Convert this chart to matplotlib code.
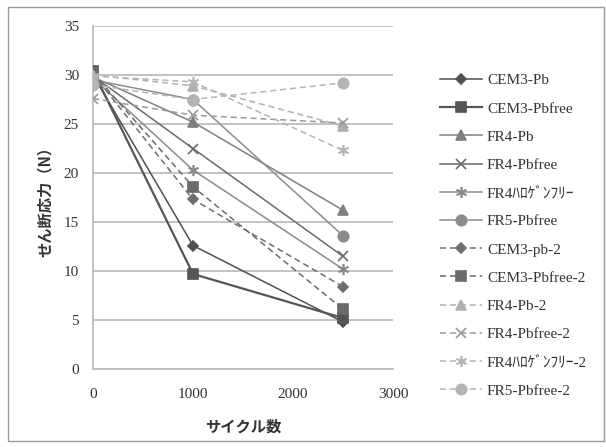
import matplotlib.pyplot as plt
from matplotlib.patches import Rectangle

# cycles
cycles = [0, 1000, 2500]

labels = ['CEM3-Pb', 'CEM3-Pbfree', 'FR4-Pb', 'FR4-Pbfree', 'FR4ﾊﾛｹﾞﾝﾌﾘｰ', 'FR5-Pbfree',
          'CEM3-pb-2', 'CEM3-Pbfree-2', 'FR4-Pb-2', 'FR4-Pbfree-2', 'FR4ﾊﾛｹﾞﾝﾌﾘｰ-2', 'FR5-Pbfree-2']

cem3_pb = [30.0, 12.6, 4.8]
cem3_pbfree = [30.4, 9.7, 5.2]
fr4_pb = [29.8, 25.2, 16.2]
fr4_pbfree = [29.9, 22.5, 11.5]
fr4_halogen = [29.7, 20.3, 10.2]
fr5_pbfree = [29.5, 27.5, 13.6]
cem3_pb_2 = [30.1, 17.3, 8.4]
cem3_pbfree_2 = [30.2, 18.6, 6.1]
fr4_pb_2 = [30.0, 28.9, 24.8]
fr4_pbfree_2 = [27.6, 25.9, 25.1]
fr4_halogen_2 = [29.9, 29.3, 22.3]
fr5_pbfree_2 = [29.0, 27.5, 29.2]

series = [cem3_pb, cem3_pbfree, fr4_pb, fr4_pbfree, fr4_halogen, fr5_pbfree,
          cem3_pb_2, cem3_pbfree_2, fr4_pb_2, fr4_pbfree_2, fr4_halogen_2, fr5_pbfree_2]

asterisk = (6, 2, 0)
markers = ['D', 's', '^', 'x', asterisk, 'o', 'D', 's', '^', 'x', asterisk, 'o']
msizes = [5, 7, 7, 7, 8, 7.5, 5, 7, 7, 7, 8, 7.5]
colors = ['#505050', '#555555', '#7f7f7f', '#6a6a6a', '#8a8a8a', '#8c8c8c',
          '#6e6e6e', '#6a6a6a', '#b0b0b0', '#9a9a9a', '#b4b4b4', '#b4b4b4']
widths = [1.1, 1.6, 1.1, 1.1, 1.1, 1.1, 1.1, 1.1, 1.1, 1.1, 1.1, 1.1]

serif = ['Liberation Serif', 'Noto Sans CJK JP']
jp = ['Noto Sans CJK JP', 'DejaVu Sans']

fig = plt.figure(figsize=(6.06, 4.47), dpi=100)
ax = fig.add_axes([93 / 606, 1 - 369 / 447, 300 / 606, 343 / 447])

for i in range(len(series)):
    ls = '-' if i < 6 else (0, (4, 2.5))
    ax.plot(cycles, series[i], label=labels[i], color=colors[i], linestyle=ls,
            linewidth=widths[i], marker=markers[i], markersize=msizes[i],
            markeredgewidth=1.2, zorder=3)

ax.set_xlim(0, 3000)
ax.set_ylim(0, 35)
ax.set_xticks([0, 1000, 2000, 3000])
ax.set_yticks(range(0, 36, 5))
ax.yaxis.grid(True, color='#bdbdbd', linewidth=1.3)
ax.set_axisbelow(True)
for s in ['top', 'right']:
    ax.spines[s].set_visible(False)
ax.spines['left'].set_color('#bdbdbd')
ax.spines['bottom'].set_color('#bdbdbd')
ax.spines['left'].set_linewidth(1.3)
ax.spines['bottom'].set_linewidth(1.3)
ax.tick_params(length=0)
ax.tick_params(axis='y', pad=10)
ax.tick_params(axis='x', pad=14)
for t in ax.get_xticklabels() + ax.get_yticklabels():
    t.set_fontfamily(serif)
    t.set_fontsize(11)
    t.set_color('#333333')

ax.set_xlabel('サイクル数', fontfamily=jp, fontsize=11, fontweight='bold', color='#333333', labelpad=12)
ax.set_ylabel('せん断応力（N）', fontfamily=jp, fontsize=11, fontweight='bold', color='#333333', labelpad=8)

leg = ax.legend(loc='upper left', bbox_to_anchor=(432 / 606, 1 - 66 / 447), bbox_transform=fig.transFigure,
                frameon=False, prop={'family': serif, 'size': 11}, handlelength=2.8,
                handletextpad=0.3, labelspacing=0.95, borderpad=0)
for t in leg.get_texts():
    t.set_color('#333333')

fig.patches.append(Rectangle((8 / 606, 6 / 447), 596 / 606, 434 / 447, transform=fig.transFigure,
                             fill=False, edgecolor='#999999', linewidth=1.0))

plt.savefig('out.png', dpi=100)
